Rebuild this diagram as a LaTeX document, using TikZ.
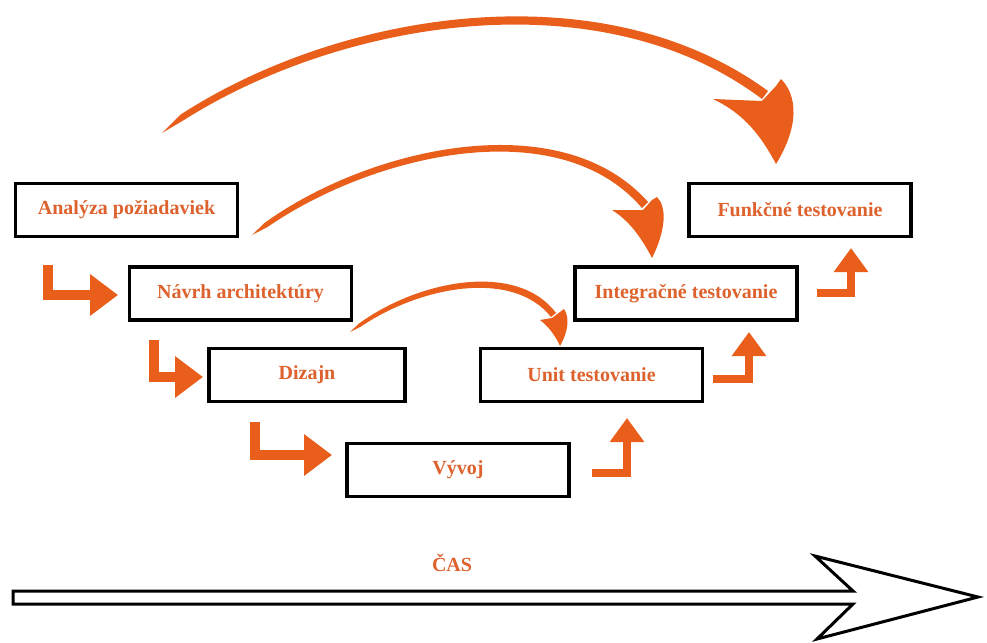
\documentclass[tikz,border=0pt]{standalone}
\usepackage{fontspec}
\setmainfont{Liberation Serif}
\usetikzlibrary{arrows.meta}
\definecolor{arrowor}{RGB}{233,94,27}
\definecolor{textor}{RGB}{221,98,45}
\begin{document}
\begin{tikzpicture}[x=1pt,y=-1pt,
  box/.style={draw=black, line width=3.5pt, fill=white, minimum width=222pt, minimum height=53pt,
    inner sep=0pt, text=textor, font=\fontsize{20}{23}\selectfont\bfseries},
  elbow/.style={draw=arrowor, line width=10pt, line join=miter, line cap=butt,
    -{Triangle[width=40pt,length=28pt]}},
  upelbow/.style={draw=arrowor, line width=8pt, line join=miter, line cap=butt,
    -{Triangle[width=33pt,length=24pt]}},
  swoosh/.style={fill=arrowor},
  timearrow/.style={draw=black, fill=white, line width=3pt, line join=miter}]
\fill[white] (0,0) rectangle (987,642);
\useasboundingbox (0,0) rectangle (987,642);

% process boxes (left branch)
\node[box] (ana) at (126.5,210) {Analýza požiadaviek};
\node[box] (nav) at (240.5,293.5) {Návrh architektúry};
\node[box, minimum width=196pt] (diz) at (307,375) {Dizajn};
\node[box] (vyv) at (458,470) {Vývoj};
% testing boxes (right branch)
\node[box] (unit) at (591.5,375) {Unit testovanie};
\node[box] (int) at (686,293.5) {Integračné testovanie};
\node[box] (fun) at (800,210) {Funkčné testovanie};

% step arrows down the left branch
\coordinate (d1a) at (48,265);  \coordinate (d1b) at (118,295);
\coordinate (d2a) at (154,340); \coordinate (d2b) at (203,377);
\coordinate (d3a) at (255,422); \coordinate (d3b) at (332,455);
\draw[elbow] (d1a) |- (d1b);
\draw[elbow] (d2a) |- (d2b);
\draw[elbow] (d3a) |- (d3b);

% step arrows up the right branch
\coordinate (u1a) at (592,473); \coordinate (u1b) at (627,418);
\coordinate (u2a) at (713,379); \coordinate (u2b) at (749,332);
\coordinate (u3a) at (817,293); \coordinate (u3b) at (851,248);
\draw[upelbow] (u1a) -| (u1b);
\draw[upelbow] (u2a) -| (u2b);
\draw[upelbow] (u3a) -| (u3b);

% curved arrows: requirements -> functional tests
\fill[swoosh] (162,133) -- (180,115) .. controls (338,12) and (600,-32) .. (768,91)
  -- (762,99) .. controls (600,-23) and (342,20) .. (184,120) -- cycle;
\fill[swoosh] (713,99) -- (762,101) -- (776,86) -- (781,79)
  .. controls (797,95) and (800,125) .. (776,164)
  .. controls (758,130) and (740,112) .. (713,99) -- cycle;

% architecture -> integration tests
\fill[swoosh] (252,235) -- (264.5,223) .. controls (368,148) and (560,103) .. (648,202)
  -- (642,208) .. controls (558,110) and (372,155) .. (267.5,227) -- cycle;
\fill[swoosh] (612,210) -- (643,210) -- (652,200) -- (657,197)
  .. controls (667,207) and (666,230) .. (652,258)
  .. controls (640,235) and (628,220) .. (612,210) -- cycle;

% design -> unit tests
\fill[swoosh] (350,332) -- (359,323.5) .. controls (419,280) and (517,261) .. (556,313)
  -- (551,317) .. controls (513,269) and (421,286) .. (361,326.5) -- cycle;
\fill[swoosh] (540,320) -- (552,318) -- (560,312) -- (564,309)
  .. controls (570,318) and (568,332) .. (560,346)
  .. controls (555,335) and (548,326) .. (540,320) -- cycle;

% time axis
\draw[timearrow] (13,591) -- (853,591) -- (815,556) -- (978,597) -- (817,639)
  -- (853,604) -- (13,604) -- cycle;
\node[text=textor, font=\fontsize{20}{23}\selectfont\bfseries] (cas) at (452,563) {ČAS};
\end{tikzpicture}
\end{document}
